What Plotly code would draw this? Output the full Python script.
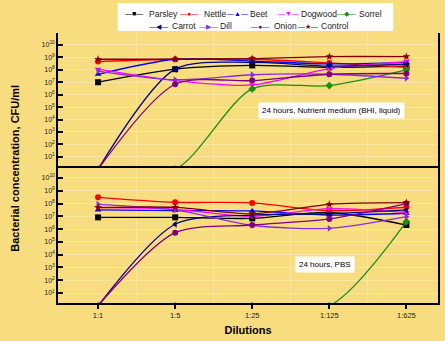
import plotly.graph_objects as go

# ---------------- data (log10 of CFU/ml) ----------------
dilutions = ["1:1", "1:5", "1:25", "1:125", "1:625"]
names = ["Parsley", "Nettle", "Beet", "Dogwood", "Sorrel", "Carrot", "Dill", "Onion", "Control"]

# 24 hours, nutrient medium (BHI, liquid)
bhi_parsley = [7.0, 8.05, 8.35, 8.2, 8.3]
bhi_nettle = [8.66, 8.85, 8.85, 8.55, 8.2]
bhi_beet = [7.64, 8.85, 8.7, 8.47, 8.6]
bhi_dogwood = [8.05, 7.13, 6.78, 8.1, 8.66]
bhi_sorrel = [0, 0, 6.46, 6.73, 8.0]
bhi_carrot = [0, 8.05, 8.6, 8.3, 8.45]
bhi_dill = [7.9, 7.2, 7.6, 7.64, 7.32]
bhi_onion = [0, 6.84, 7.13, 7.64, 7.7]
bhi_control = [8.85, 8.85, 8.9, 9.06, 9.06]

# 24 hours, PBS
pbs_parsley = [6.92, 6.92, 6.84, 7.3, 6.32]
pbs_nettle = [8.49, 8.1, 8.05, 7.44, 7.71]
pbs_beet = [7.5, 7.45, 7.42, 7.1, 7.24]
pbs_dogwood = [7.7, 7.55, 7.0, 7.6, 7.3]
pbs_sorrel = [0, 0, 0, 0, 6.58]
pbs_carrot = [0, 6.38, 7.1, 7.2, 7.5]
pbs_dill = [7.94, 7.5, 6.3, 6.06, 6.97]
pbs_onion = [0, 5.72, 6.32, 6.8, 8.0]
pbs_control = [7.68, 7.7, 7.2, 7.94, 8.07]

bhi = [bhi_parsley, bhi_nettle, bhi_beet, bhi_dogwood, bhi_sorrel,
       bhi_carrot, bhi_dill, bhi_onion, bhi_control]
pbs = [pbs_parsley, pbs_nettle, pbs_beet, pbs_dogwood, pbs_sorrel,
       pbs_carrot, pbs_dill, pbs_onion, pbs_control]

colors = ["#000000", "#ff0000", "#0000ff", "#ff00ff", "#1a8f1a",
          "#000080", "#8a2be2", "#800080", "#800000"]
symbols = ["square", "circle", "triangle-up", "triangle-down", "diamond",
           "triangle-left", "triangle-right", "circle", "star"]
glyphs = ["■", "●", "▲", "▼", "◆", "◀", "▶", "●", "★"]

xpos = list(range(len(dilutions)))
bg = "#f8dc80"
grid = "#fbe6a6"

fig = go.Figure()
for i, nm in enumerate(names):
    for panel, data, ax in ((0, bhi, "y"), (1, pbs, "y2")):
        fig.add_trace(go.Scatter(
            x=xpos, y=[10 ** v for v in data[i]], yaxis=ax, xaxis="x",
            mode="lines+markers", name=nm, showlegend=False,
            line=dict(color=colors[i], width=1.3, shape="spline", smoothing=0.8),
            marker=dict(symbol=symbols[i], size=6, color=colors[i]),
        ))

tick_vals = [10 ** k for k in range(1, 11)]
tick_text = ["10<sup>%d</sup>" % k for k in range(1, 11)]
yax_common = dict(
    type="log", tickvals=tick_vals, ticktext=tick_text,
    ticks="inside", ticklen=5, tickwidth=2, tickcolor="#000",
    showline=True, linecolor="#000", linewidth=1.5, mirror=True,
    showgrid=True, gridcolor=grid, gridwidth=1, zeroline=False,
    tickfont=dict(family="Liberation Sans, Arial", size=7, color="#222"),
)

L, R, T, B, W, H = 58, 5, 33, 38, 445, 341
pw, ph = W - L - R, H - T - B


def px(xp):
    return (xp - L) / pw


def py(yp):
    return (H - B - yp) / ph


fig.update_layout(
    width=W, height=H,
    paper_bgcolor=bg, plot_bgcolor=bg,
    margin=dict(l=L, r=R, t=T, b=B),
    font=dict(family="Liberation Sans, Arial", color="#000"),
    xaxis=dict(
        range=[-0.52, 4.41], tickvals=xpos, ticktext=dilutions,
        ticks="outside", ticklen=4, tickwidth=1.5, tickcolor="#000",
        showline=True, linecolor="#000", linewidth=1.5, mirror=True,
        showgrid=False, zeroline=False, anchor="y2",
        minor=dict(tickvals=[0.5, 1.5, 2.5, 3.5], showgrid=True, gridcolor=grid),
        tickfont=dict(size=7.5, color="#222"),
        title=dict(text="<b>Dilutions</b>", font=dict(size=11), standoff=8),
    ),
    yaxis=dict(domain=[0.5, 1.0], range=[0.1, 10.96], **yax_common),
    yaxis2=dict(domain=[0.0, 0.5], range=[0.22, 10.78], **yax_common),
    showlegend=False,
)

# legend box (white) and entries
fig.add_shape(type="rect", xref="paper", yref="paper",
              x0=px(118), x1=px(395), y0=py(31), y1=py(3),
              fillcolor="#ffffff", line=dict(width=0), layer="above")
legend_line_x = [134, 190, 238, 290, 348, 159, 209, 261, 309]
legend_text_x = [147, 203, 249, 300, 359, 171, 219, 273, 320]
legend_y = [14, 14, 14, 14, 14, 26, 26, 26, 26]
for i, nm in enumerate(names):
    fig.add_annotation(
        text="—%s—" % glyphs[i],
        xref="paper", yref="paper", x=px(legend_line_x[i]), y=py(legend_y[i]),
        xanchor="center", yanchor="middle", showarrow=False,
        font=dict(size=7, color=colors[i]),
    )
    fig.add_annotation(
        text=nm,
        xref="paper", yref="paper", x=px(legend_text_x[i]), y=py(legend_y[i]),
        xanchor="left", yanchor="middle", showarrow=False,
        font=dict(size=8.5, color="#222"),
    )

fig.add_annotation(
    text="<b>Bacterial concentration, CFU/ml</b>", xref="paper", yref="paper",
    x=-0.135, y=0.5, textangle=-90, showarrow=False, font=dict(size=11),
)
fig.add_annotation(
    text="24 hours, Nutrient medium (BHI, liquid)", xref="x", yref="y",
    x=3.03, y=4.69, showarrow=False, bgcolor="#ffffff", font=dict(size=8),
    borderpad=3,
)
fig.add_annotation(
    text="24 hours, PBS", xref="x", yref="y2",
    x=2.94, y=3.27, showarrow=False, bgcolor="#ffffff", font=dict(size=8),
    borderpad=3,
)

fig.write_html("out.html", config={"displayModeBar": False},
               post_script="document.body.style.margin='0';")
